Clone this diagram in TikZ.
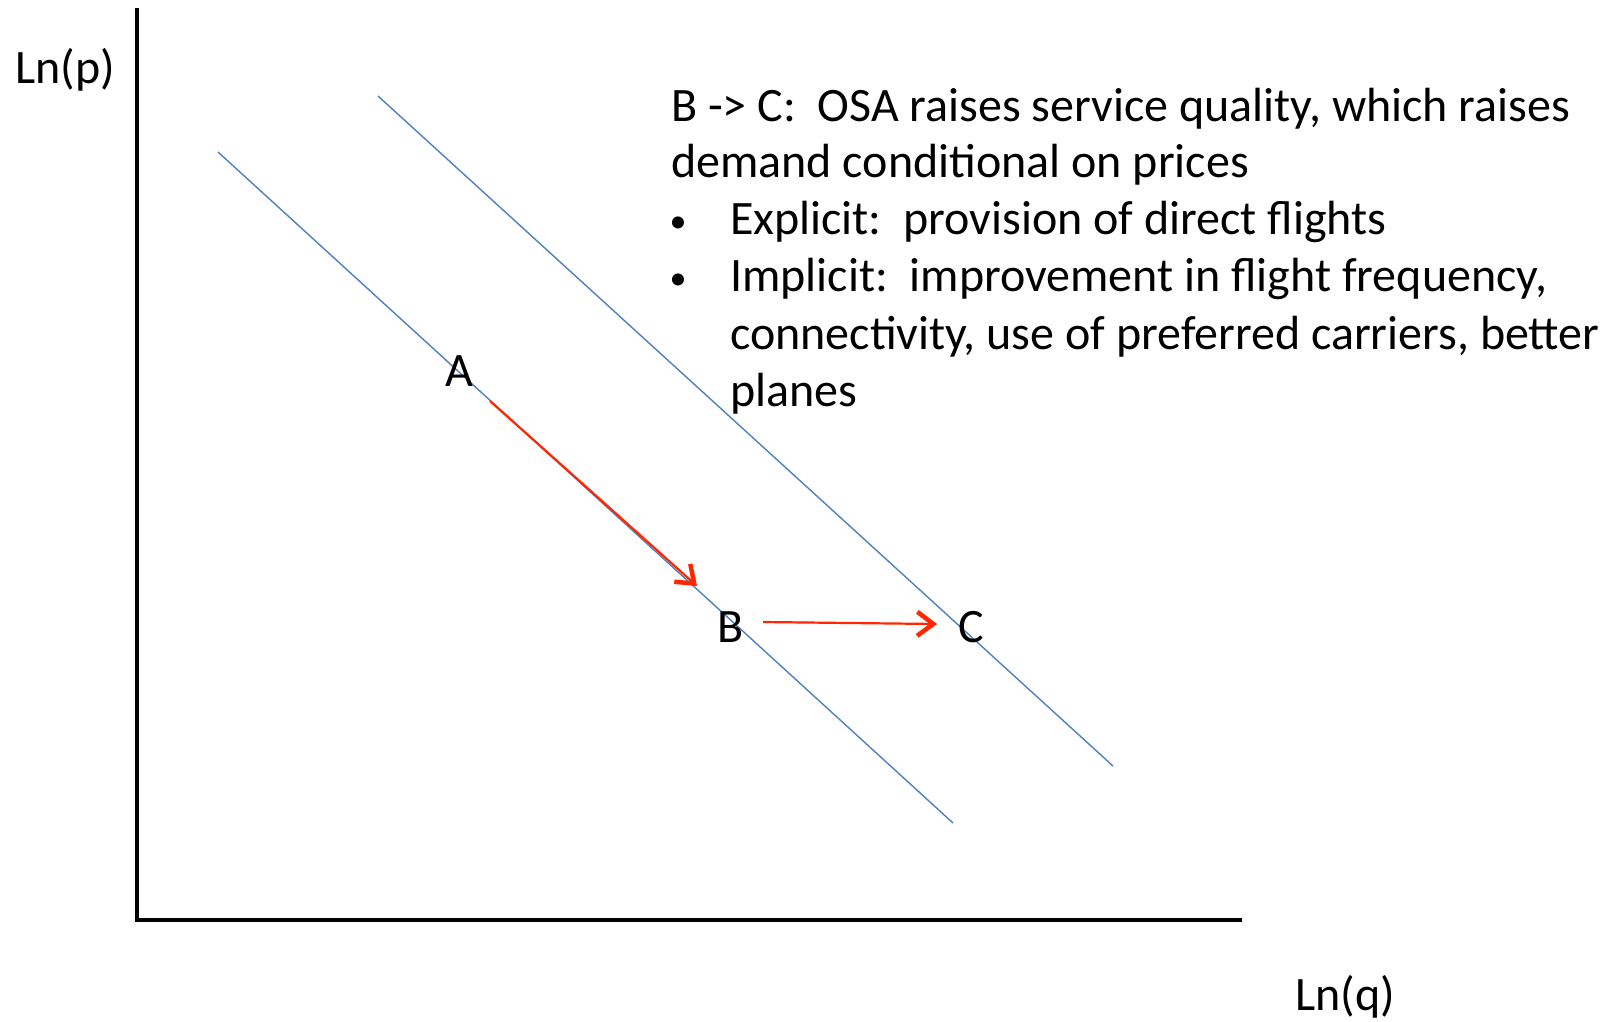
\documentclass[tikz,border=0pt]{standalone}
\usepackage{fontspec}
\setmainfont{Carlito}
\usetikzlibrary{arrows.meta}
\definecolor{curveblue}{RGB}{79,129,189}
\definecolor{shiftred}{RGB}{255,38,0}
\tikzset{
  demand/.style={curveblue,line width=1.4pt},
  move/.style={shiftred,line width=2.2pt,-{Straight Barb[length=16pt,width=24pt,line width=4.5pt]}},
  lbl/.style={inner sep=0pt,font=\fontsize{48}{57}\selectfont},
  dot/.style={inner sep=0pt,font=\fontsize{34}{40}\selectfont},
}
\begin{document}
\begin{tikzpicture}[x=1pt,y=-1pt]
        \useasboundingbox[fill=white] (0,0) rectangle (1619,1021);
        %% Axes
        \coordinate (origin) at (137,920);
        \coordinate (ptop) at (137,8);
        \coordinate (qend) at (1242,920);
        \draw[line width=3.3pt] (ptop) -- (origin) -- (qend);
        \node[lbl,anchor=base west] (lnp) at (15,83) {Ln(p)};
        \node[lbl,anchor=base west] (lnq) at (1295,1010) {Ln(q)};
        %% Demand curves
        \coordinate (d1s) at (218,152);
        \coordinate (d1e) at (953,823);
        \coordinate (d2s) at (378,96);
        \coordinate (d2e) at (1113,766);
        \draw[demand] (d1s) -- (d1e);
        \draw[demand] (d2s) -- (d2e);
        %% Points
        \node[lbl,anchor=base] (ptA) at (459.5,386) {A};
        \node[lbl,anchor=base] (ptB) at (730.5,642) {B};
        \node[lbl,anchor=base] (ptC) at (971,642) {C};
        %% Moves
        \coordinate (ab0) at (490,401);
        \coordinate (ab1) at (697,586);
        \coordinate (bc0) at (763,622);
        \coordinate (bc1) at (937,624);
        \draw[move] (ab0) -- (ab1);
        \draw[move] (bc0) -- (bc1);
        %% Explanation
        \node[lbl,anchor=base west] (txt1) at (671,121) {B -> C:\ \ OSA raises service quality, which raises};
        \node[lbl,anchor=base west] (txt2) at (671,177) {demand conditional on prices};
        \node[dot,anchor=base] (bul1) at (678,232) {•};
        \node[lbl,anchor=base west] (txt3) at (730,234) {Explicit:\ \ provision of direct flights};
        \node[dot,anchor=base] (bul2) at (678,289) {•};
        \node[lbl,anchor=base west] (txt4) at (730,291) {Implicit:\ \ improvement in flight frequency,};
        \node[lbl,anchor=base west] (txt5) at (730,349) {connectivity, use of preferred carriers, better};
        \node[lbl,anchor=base west] (txt6) at (730,406) {planes};
    \end{tikzpicture}
\end{document}
